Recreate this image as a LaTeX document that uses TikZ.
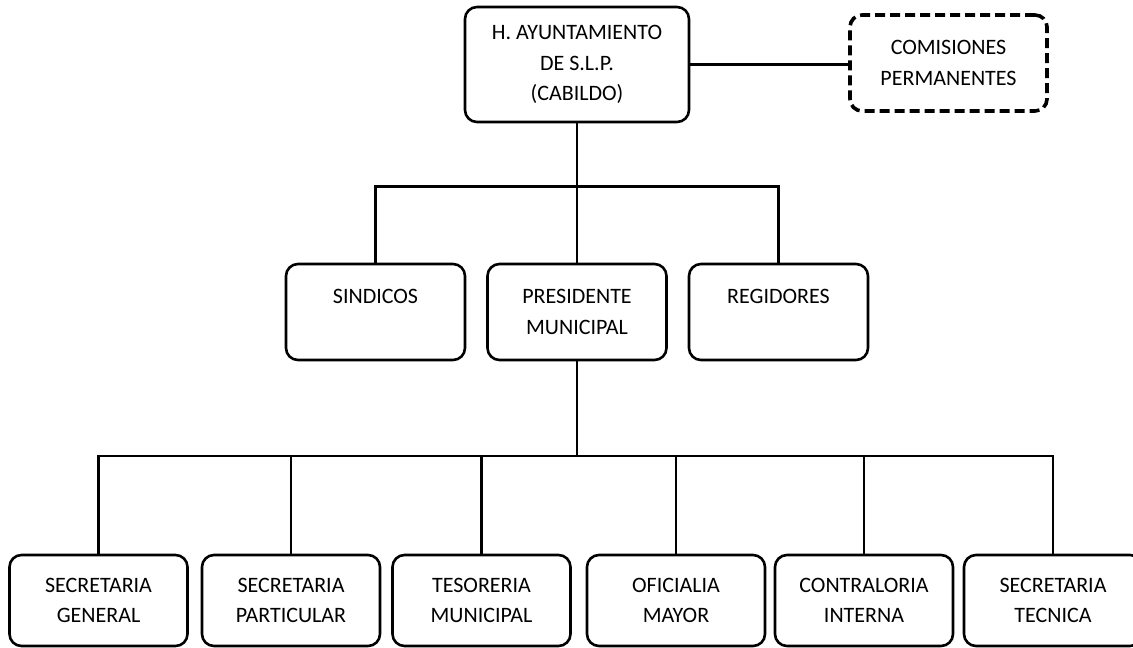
\documentclass[tikz,border=0pt]{standalone}
\usepackage{fontspec}
\setmainfont{Carlito}
\usepackage{tikz}
\usetikzlibrary{positioning}

\begin{document}
\begin{tikzpicture}[x=0.5pt, y=-0.5pt, line width=1.3pt,
	unit/.style={draw, rounded corners=6pt, align=center, inner sep=0pt, font=\fontsize{11}{15.2}\selectfont},
	topbox/.style={unit, minimum width=112pt, minimum height=57.5pt},
	sidebox/.style={unit, line width=1.8pt, dash pattern=on 5pt off 2.5pt, minimum width=98.5pt, minimum height=48pt},
	midbox/.style={unit, minimum width=89.5pt, minimum height=48pt},
	lowbox/.style={unit, minimum width=89pt, minimum height=45.5pt}]

		\useasboundingbox (0, 0) rectangle (1133, 647);

		\node[topbox] (cabildo) at (577, 64.5) {H. AYUNTAMIENTO\\DE S.L.P.\\(CABILDO)};
		\node[sidebox] (comisiones) at (948.5, 63) {COMISIONES\\PERMANENTES};

		\node[midbox] (sindicos) at (375.5, 312) {SINDICOS\\~};
		\node[midbox] (presidente) at (577, 312) {PRESIDENTE\\MUNICIPAL};
		\node[midbox] (regidores) at (778.5, 312) {REGIDORES\\~};

		\node[lowbox] (sgeneral) at (98.5, 600.5) {SECRETARIA\\GENERAL};
		\node[lowbox] (sparticular) at (291, 600.5) {SECRETARIA\\PARTICULAR};
		\node[lowbox] (tesoreria) at (481.5, 600.5) {TESORERIA\\MUNICIPAL};
		\node[lowbox] (oficialia) at (676, 600.5) {OFICIALIA\\MAYOR};
		\node[lowbox] (contraloria) at (864, 600.5) {CONTRALORIA\\INTERNA};
		\node[lowbox] (stecnica) at (1053, 600.5) {SECRETARIA\\TECNICA};

		\coordinate (upper) at (577, 186.5);
		\coordinate (lower) at (577, 456);

		\draw (cabildo.east) -- (cabildo.east -| comisiones.west);
		\draw (cabildo.south) -- (presidente.north);
		\draw (sindicos.north) |- (upper) -| (regidores.north);
		\draw (presidente.south) -- (lower);
		\foreach \n in {sgeneral, sparticular, tesoreria, oficialia, contraloria, stecnica}
			\draw (lower) -| (\n.north);

	\end{tikzpicture}
\end{document}
